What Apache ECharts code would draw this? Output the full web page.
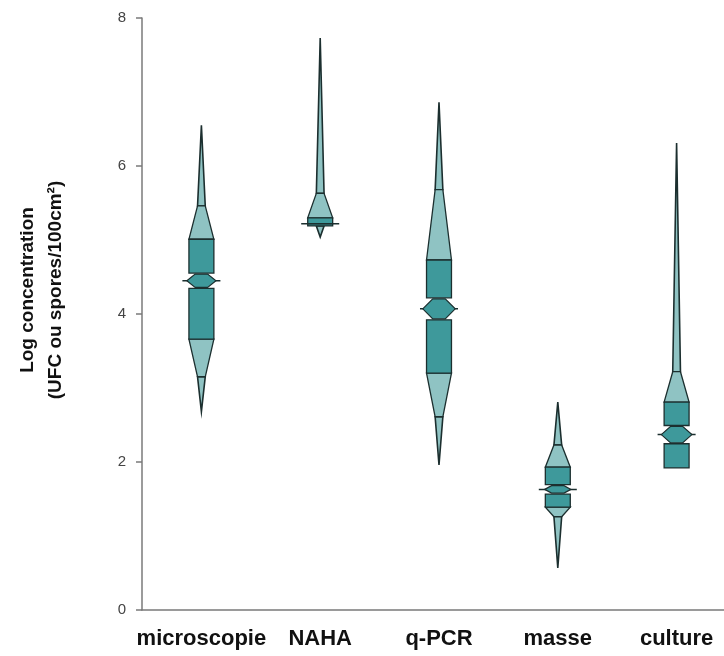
<!DOCTYPE html>
<html>
<head>
<meta charset="utf-8">
<script src="https://cdn.jsdelivr.net/npm/echarts@6/dist/echarts.min.js"></script>
<style>
html, body { margin: 0; padding: 0; background: #fff; }
#main { width: 724px; height: 656px; }
</style>
</head>
<body>
<div id="main"></div>
<script>
// values (log units)
var categories = ['microscopie', 'NAHA', 'q-PCR', 'masse', 'culture'];
var maxVals   = [6.55, 7.73, 6.86, 2.81, 6.31];
var upperJoin = [5.46, 5.63, 5.68, 2.23, 3.22];
var q3Vals    = [5.01, 5.30, 4.73, 1.93, 2.81];
var medians   = [4.45, 5.22, 4.07, 1.63, 2.37];
var q1Vals    = [3.66, 5.19, 3.20, 1.39, 1.92];
var lowerJoin = [3.15, 5.19, 2.61, 1.26, 1.92];
var minVals   = [2.68, 5.04, 1.96, 0.57, 1.92];
var notches   = [0.09, 0.00, 0.135, 0.05, 0.11];

var light = '#8fc3c3';
var dark = '#3e999b';
var edge = '#1c2f2f';

var seriesData = [];
for (var i = 0; i < categories.length; i++) {
    seriesData.push([i, minVals[i], lowerJoin[i], q1Vals[i], medians[i],
        q3Vals[i], upperJoin[i], maxVals[i], notches[i]]);
}

function renderVase(params, api) {
    var idx = api.value(0);
    var band = api.size([1, 0])[0];
    var cx = api.coord([idx, 0])[0];
    var y = function (d) { return api.coord([idx, api.value(d)])[1]; };
    var yMin = y(1), yLJ = y(2), yQ1 = y(3), yMed = y(4), yQ3 = y(5), yUJ = y(6), yMax = y(7);
    var notchPx = Math.abs(api.size([0, api.value(8)])[1]);
    var bw = band * 0.21, sw = band * 0.065, lw = band * 0.32;
    var spikeStyle = { fill: light, stroke: edge, lineWidth: 1.6 };
    var taperStyle = { fill: light, stroke: edge, lineWidth: 1.3 };
    var kids = [];

    // upper spike + taper
    if (yUJ - yMax > 0.5) {
        kids.push({ type: 'polygon', shape: { points: [[cx, yMax], [cx + sw / 2, yUJ], [cx - sw / 2, yUJ]] }, style: spikeStyle });
    }
    if (yQ3 - yUJ > 0.5) {
        kids.push({ type: 'polygon', shape: { points: [[cx - sw / 2, yUJ], [cx + sw / 2, yUJ], [cx + bw / 2, yQ3], [cx - bw / 2, yQ3]] }, style: taperStyle });
    }
    // lower taper + spike
    if (yLJ - yQ1 > 0.5) {
        kids.push({ type: 'polygon', shape: { points: [[cx - bw / 2, yQ1], [cx + bw / 2, yQ1], [cx + sw / 2, yLJ], [cx - sw / 2, yLJ]] }, style: taperStyle });
    }
    if (yMin - yLJ > 0.5) {
        kids.push({ type: 'polygon', shape: { points: [[cx - sw / 2, yLJ], [cx + sw / 2, yLJ], [cx, yMin]] }, style: spikeStyle });
    }

    // box, split around the median notch
    var gap = notchPx > 0 ? notchPx + 1 : 0;
    var boxStyle = { fill: dark, stroke: edge, lineWidth: 1.3 };
    if (yMed - gap - yQ3 > 0.5) {
        kids.push({ type: 'rect', shape: { x: cx - bw / 2, y: yQ3, width: bw, height: yMed - gap - yQ3 }, style: boxStyle });
    }
    if (yQ1 - (yMed + gap) > 0.5) {
        kids.push({ type: 'rect', shape: { x: cx - bw / 2, y: yMed + gap, width: bw, height: yQ1 - yMed - gap }, style: boxStyle });
    }

    // median line
    kids.push({ type: 'line', shape: { x1: cx - lw / 2, y1: yMed, x2: cx + lw / 2, y2: yMed }, style: { stroke: edge, lineWidth: 1.5 } });

    // notch diamond
    if (notchPx > 0) {
        var dw = bw * 0.9 + notchPx;
        kids.push({
            type: 'polygon',
            shape: { points: [[cx - dw / 2, yMed], [cx - bw * 0.25, yMed - notchPx], [cx + bw * 0.25, yMed - notchPx],
                [cx + dw / 2, yMed], [cx + bw * 0.25, yMed + notchPx], [cx - bw * 0.25, yMed + notchPx]] },
            style: { fill: dark, stroke: edge, lineWidth: 1.2 }
        });
    }
    return { type: 'group', children: kids };
}

var myChart = echarts.init(document.getElementById('main'));
var option = {
    animation: false,
    grid: {
        left: 142,
        top: 18,
        width: 594,
        height: 592,
        containLabel: false,
        outerBoundsMode: 'none'
    },
    xAxis: {
        type: 'category',
        data: categories,
        axisLine: { lineStyle: { color: '#7a7a7a', width: 1.5 } },
        axisTick: { alignWithLabel: true, interval: 0, length: 6, lineStyle: { color: '#7a7a7a', width: 1.5 } },
        axisLabel: {
            interval: 0,
            hideOverlap: false,
            color: '#111',
            fontFamily: 'Liberation Sans',
            fontWeight: 'bold',
            fontSize: 22,
            margin: 18
        }
    },
    yAxis: {
        type: 'value',
        min: 0,
        max: 8,
        interval: 2,
        axisLine: { show: true, lineStyle: { color: '#7a7a7a', width: 1.5 } },
        axisTick: { show: true, length: 6, lineStyle: { color: '#7a7a7a', width: 1.5 } },
        splitLine: { show: false },
        axisLabel: {
            color: '#444',
            fontFamily: 'Liberation Sans',
            fontSize: 15,
            margin: 16
        }
    },
    graphic: [{
        type: 'text',
        x: 42,
        y: 290,
        rotation: Math.PI / 2,
        style: {
            text: 'Log concentration\n(UFC ou spores/100cm²)',
            fontFamily: 'Liberation Sans',
            fontWeight: 'bold',
            fontSize: 19,
            lineHeight: 28,
            fill: '#111',
            align: 'center',
            verticalAlign: 'middle'
        }
    }],
    series: [{
        type: 'custom',
        renderItem: renderVase,
        encode: { x: 0, y: [1, 7] },
        data: seriesData
    }]
};
myChart.setOption(option);
</script>
</body>
</html>
